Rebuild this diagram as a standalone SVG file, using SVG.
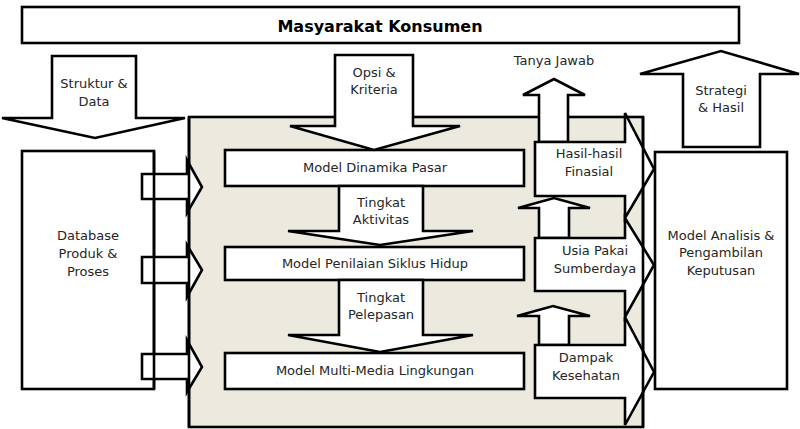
<svg xmlns="http://www.w3.org/2000/svg" width="800" height="429" viewBox="0 0 800 429">
<style>
.box{fill:#fff;stroke:#000;stroke-width:2.6}
.frame{fill:#ECEADF;stroke:#000;stroke-width:2.6}
.arr{fill:#fff;stroke:#000;stroke-width:2.6;stroke-linejoin:miter}
.edge{stroke:#000;stroke-width:2.6;fill:none}
text{font-family:"DejaVu Sans","Liberation Sans",sans-serif;font-size:13px;fill:#262626;text-anchor:middle}
.title{font-size:16px;font-weight:bold;fill:#000}
</style>
<rect width="800" height="429" fill="#fff"/>
<g id="masyarakat">
<rect class="box" x="22" y="7" width="717" height="36"/>
<text class="title" x="380" y="32">Masyarakat Konsumen</text>
</g>
<g id="frame">
<rect class="frame" x="189" y="117" width="454" height="310"/>
</g>
<g id="model-dinamika">
<rect class="box" x="225" y="150" width="299" height="36"/>
<text x="375" y="172">Model Dinamika Pasar</text>
</g>
<g id="model-penilaian">
<rect class="box" x="225" y="247" width="299" height="33"/>
<text x="375" y="268">Model Penilaian Siklus Hidup</text>
</g>
<g id="model-multimedia">
<rect class="box" x="225" y="353" width="299" height="36"/>
<text x="375" y="375">Model Multi-Media Lingkungan</text>
</g>
<g id="database">
<rect class="box" x="22" y="151" width="132" height="238"/>
<text x="88" y="240">Database</text><text x="88" y="258">Produk &amp;</text><text x="88" y="276">Proses</text>
</g>
<g id="connectors">
<g id="c-aktivitas">
<polygon class="arr" points="339,186 423,186 423,231 473,231 380,245 288,231 339,231"/>
<text x="381" y="207">Tingkat</text><text x="381" y="224">Aktivitas</text>
</g>
<g id="c-pelepasan">
<polygon class="arr" points="339,280 423,280 423,335 473,335 380,352 288,335 339,335"/>
<text x="381" y="302">Tingkat</text><text x="381" y="319">Pelepasan</text>
</g>
<g id="c-opsi">
<polygon class="arr" points="335,55 413,55 413,126 460,126 374,150 290,126 335,126"/>
<text x="374" y="77">Opsi &amp;</text><text x="374" y="94">Kriteria</text>
</g>
<g id="c-tanya">
<polygon class="arr" points="539,142 539,95 523,95 554,79 585,95 568,95 568,142"/>
<text x="554" y="65">Tanya Jawab</text>
</g>
<polygon class="arr" points="539,238 539,208 518,208 554,198 590,208 569,208 569,238"/>
<polygon class="arr" points="539,345 539,316 517,316 553,306 590,316 569,316 569,345"/>
<g id="c-hasil">
<polygon class="arr" points="535,142 625,142 625,113 654,169 625,218 625,196 535,196"/>
<text x="589" y="158">Hasil-hasil</text><text x="589" y="176">Finasial</text>
</g>
<g id="c-usia">
<polygon class="arr" points="535,238 625,238 625,218 654,265 625,317 625,291 535,291"/>
<text x="595" y="255">Usia Pakai</text><text x="595" y="273">Sumberdaya</text>
</g>
<g id="c-dampak">
<polygon class="arr" points="535,345 625,345 625,317 654,372 625,425 625,398 535,398"/>
<text x="586" y="362">Dampak</text><text x="586" y="380">Kesehatan</text>
</g>
<polygon class="arr" points="142,174 187,174 187,160 202,187 187,213 187,199 142,199"/>
<polygon class="arr" points="142,257 187,257 187,245 202,270 187,297 187,283 142,283"/>
<polygon class="arr" points="142,354 187,354 187,340 202,367 187,392 187,379 142,379"/>
<g id="c-struktur">
<polygon class="arr" points="52,56 136,56 136,118 185,118 95,138 2,118 52,118"/>
<text x="94" y="88">Struktur &amp;</text><text x="94" y="106">Data</text>
</g>
<g id="c-strategi">
<polygon class="arr" points="683,147 683,74 640,74 721,51 799,74 760,74 760,147"/>
<text x="721" y="95">Strategi</text><text x="721" y="112">&amp; Hasil</text>
</g>
</g>
<g id="frame-edges">
<line class="edge" x1="189" y1="117" x2="189" y2="427"/>
<line class="edge" x1="643" y1="117" x2="643" y2="427"/>
<line class="edge" x1="154" y1="151" x2="154" y2="389"/>
</g>
<g id="model-analisis">
<rect class="box" x="655" y="152" width="132" height="237"/>
<text x="721" y="240">Model Analisis &amp;</text><text x="721" y="257">Pengambilan</text><text x="721" y="275">Keputusan</text>
</g>
</svg>
